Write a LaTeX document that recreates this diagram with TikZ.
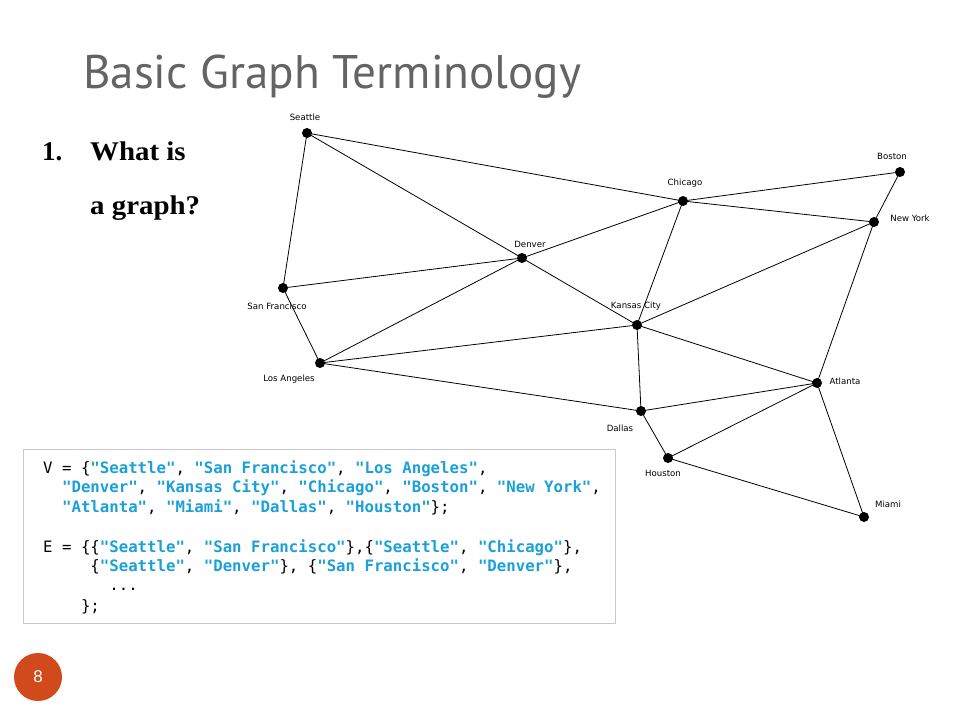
\documentclass[tikz,border=0pt]{standalone}
\usepackage{fontspec}
\setmainfont{Liberation Serif}
\setmonofont{DejaVu Sans Mono}
\newfontfamily\titlefont{PT Sans}
\newfontfamily\labfont{DejaVu Sans}
\newfontfamily\numfont{Liberation Sans}
\definecolor{codeblue}{RGB}{27,160,215}
\definecolor{titlegray}{RGB}{100,100,100}
\definecolor{badge}{RGB}{208,74,28}
\definecolor{boxgray}{RGB}{200,200,200}
\newcommand\qs[1]{\textcolor{codeblue}{\bfseries"#1"}}
\tikzset{
  city/.style={circle,fill=black,inner sep=0pt,minimum size=10pt},
  lab/.style={font=\labfont\fontsize{8.6}{10}\selectfont,inner sep=0pt},
  edge/.style={draw=black,line width=0.8pt},
  codeline/.style={anchor=base west,inner sep=0pt,font=\ttfamily\fontsize{15.7}{18}\selectfont},
  qtext/.style={anchor=base west,inner sep=0pt,font=\bfseries\fontsize{27}{32}\selectfont},
}
\begin{document}
\begin{tikzpicture}[x=1pt,y=-1pt]
\useasboundingbox (0,0) rectangle (960,720);
% title
\node[anchor=base west,inner sep=0pt,text=titlegray,font=\titlefont\fontsize{50}{60}\selectfont] (title) at (83,88) {\resizebox{498pt}{!}{Basic Graph Terminology}};
% question
\node[qtext] (num) at (42,160) {1.};
\node[qtext] (q1) at (90,160) {\scalebox{1.07}[1]{What is}};
\node[qtext] (q2) at (90,214) {\scalebox{1.07}[1]{a graph?}};
% cities
\node[city] (sea) at (307,133) {};
\node[city] (sf) at (283,288) {};
\node[city] (la) at (320,363) {};
\node[city] (den) at (522,258) {};
\node[city] (kc) at (637,325) {};
\node[city] (chi) at (683,201) {};
\node[city] (bos) at (900,172) {};
\node[city] (ny) at (874,222) {};
\node[city] (atl) at (817,383) {};
\node[city] (dal) at (641,411) {};
\node[city] (hou) at (668,458) {};
\node[city] (mia) at (864,517) {};
% labels
\node[lab] (lsea) at (305,117) {Seattle};
\node[lab] (lsf) at (277,306) {San Francisco};
\node[lab] (lla) at (289,379) {Los Angeles};
\node[lab] (lden) at (530,244) {Denver};
\node[lab] (lkc) at (636,306) {Kansas City};
\node[lab] (lchi) at (685,183) {Chicago};
\node[lab] (lbos) at (892,156) {Boston};
\node[lab] (lny) at (910,218) {New York};
\node[lab] (latl) at (845,381) {Atlanta};
\node[lab] (ldal) at (620,428) {Dallas};
\node[lab] (lhou) at (663,473) {Houston};
\node[lab] (lmia) at (888,504) {Miami};
% edges
\draw[edge] (sea.center) -- (sf.center);
\draw[edge] (sea.center) -- (den.center);
\draw[edge] (sea.center) -- (chi.center);
\draw[edge] (sf.center) -- (den.center);
\draw[edge] (sf.center) -- (la.center);
\draw[edge] (la.center) -- (den.center);
\draw[edge] (la.center) -- (kc.center);
\draw[edge] (la.center) -- (dal.center);
\draw[edge] (den.center) -- (chi.center);
\draw[edge] (den.center) -- (kc.center);
\draw[edge] (chi.center) -- (bos.center);
\draw[edge] (chi.center) -- (ny.center);
\draw[edge] (chi.center) -- (kc.center);
\draw[edge] (bos.center) -- (ny.center);
\draw[edge] (ny.center) -- (kc.center);
\draw[edge] (ny.center) -- (atl.center);
\draw[edge] (kc.center) -- (atl.center);
\draw[edge] (kc.center) -- (dal.center);
\draw[edge] (atl.center) -- (dal.center);
\draw[edge] (atl.center) -- (hou.center);
\draw[edge] (atl.center) -- (mia.center);
\draw[edge] (dal.center) -- (hou.center);
\draw[edge] (hou.center) -- (mia.center);
% code box
\draw[boxgray,line width=1pt] (23,449) rectangle (615,623);
\node[codeline] (c1) at (43,473) {V = \{\qs{Seattle}, \qs{San Francisco}, \qs{Los Angeles},};
\node[codeline] (c2) at (43,492) {~~\qs{Denver}, \qs{Kansas City}, \qs{Chicago}, \qs{Boston}, \qs{New York},};
\node[codeline] (c3) at (43,512) {~~\qs{Atlanta}, \qs{Miami}, \qs{Dallas}, \qs{Houston}\};};
\node[codeline] (c4) at (43,552) {E = \{\{\qs{Seattle}, \qs{San Francisco}\},\{\qs{Seattle}, \qs{Chicago}\},};
\node[codeline] (c5) at (43,571) {~~~~~\{\qs{Seattle}, \qs{Denver}\}, \{\qs{San Francisco}, \qs{Denver}\},};
\node[codeline] (c6) at (43,590) {~~~~~~~...};
\node[codeline] (c7) at (43,611) {~~~~\};};
% page badge
\node[circle,fill=badge,minimum size=48pt,inner sep=0pt,text=white,font=\numfont\fontsize{17}{20}\selectfont] (page) at (38,677) {8};
\end{tikzpicture}
\end{document}
